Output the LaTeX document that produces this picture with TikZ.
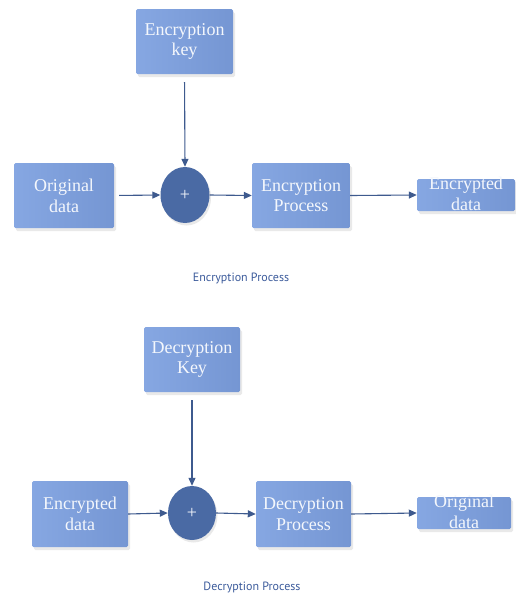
\documentclass[tikz,border=0pt]{standalone}
\usepackage{fontspec}
\setmainfont{Liberation Serif}
\newfontfamily\capfont{PT Sans}
\usetikzlibrary{arrows.meta,shapes.geometric,shadows}
\definecolor{boxtop}{HTML}{86A7E2}
\definecolor{boxbot}{HTML}{7596D3}
\definecolor{circfill}{HTML}{4A6AA4}
\definecolor{arrowc}{HTML}{3E5A8E}
\definecolor{capc}{HTML}{3D5C9C}
\definecolor{txtc}{HTML}{F4F7FC}
\tikzset{
  bx/.style={rectangle, rounded corners=1.5pt, inner sep=0pt, align=center,
    left color=boxtop, right color=boxbot, text=txtc,
    font=\fontsize{18}{20.7}\selectfont,
    drop shadow={shadow xshift=2pt, shadow yshift=-3pt, fill=black!12, opacity=.7}},
  plusnode/.style={ellipse, inner sep=0pt, fill=circfill, text=txtc,
    font=\fontsize{18}{18}\selectfont,
    drop shadow={shadow xshift=1.5pt, shadow yshift=-2.5pt, fill=black!12, opacity=.7}},
  conn/.style={draw=arrowc, line width=1.1pt, -{Triangle[length=8pt,width=7pt]}},
  captxt/.style={text=capc, font=\capfont\fontsize{12}{14}\selectfont}
}
\newcommand{\tl}[2]{\raisebox{0pt}[0pt][0pt]{\raisebox{-0.3em}{\begin{tabular}{@{}c@{}}#1\\[-0.2pt]#2\end{tabular}}}}
\begin{document}
\begin{tikzpicture}[x=1pt,y=-1pt]
\fill[white] (0,0) rectangle (516,595);
\useasboundingbox (0,0) rectangle (516,595);
% Encryption
\node[bx, minimum width=97pt, minimum height=65pt] (key1) at (184.5,41.5) {Encryption\\key};
\node[bx, minimum width=100pt, minimum height=65pt] (orig1) at (64,195.5) {Original\\data};
\node[plusnode, minimum width=49pt, minimum height=56pt] (circ1) at (185,195) {+};
\node[bx, minimum width=98pt, minimum height=65pt] (proc1) at (301,195.5) {Encryption\\Process};
\node[bx, minimum width=98pt, minimum height=32pt] (enc1) at (466,195) {\tl{Encrypted}{data}};
\node[captxt] (cap1) at (241,278) {Encryption Process};
\draw[conn, shorten <=8pt] (key1.south) -- (circ1.north);
\draw[conn, shorten <=5pt] (orig1.east) -- (circ1.west);
\draw[conn] (circ1.east) -- (proc1.west);
\draw[conn] (proc1.east) -- (enc1.west);
% Decryption
\node[bx, minimum width=96pt, minimum height=65pt] (key2) at (192,359.5) {Decryption\\Key};
\node[bx, minimum width=96pt, minimum height=66pt] (enc2) at (80,514) {Encrypted\\data};
\node[plusnode, minimum width=48pt, minimum height=54pt] (circ2) at (192,513) {+};
\node[bx, minimum width=95pt, minimum height=66pt] (proc2) at (303.5,514) {Decryption\\Process};
\node[bx, minimum width=94pt, minimum height=32pt] (orig2) at (464,513) {\tl{Original}{data}};
\node[captxt] (cap2) at (252,587) {Decryption Process};
\draw[conn, shorten <=8pt] (key2.south) -- (circ2.north);
\draw[conn] (enc2.east) -- (circ2.west);
\draw[conn] (circ2.east) -- (proc2.west);
\draw[conn] (proc2.east) -- (orig2.west);
\end{tikzpicture}
\end{document}
